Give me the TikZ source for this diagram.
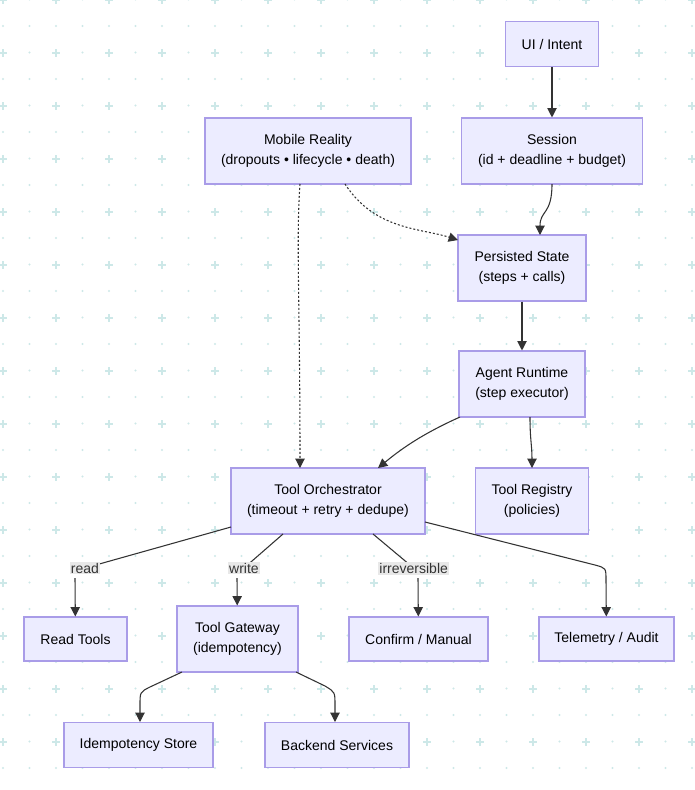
\documentclass[tikz,border=0pt]{standalone}
\usepackage{fontspec}
\setmainfont{Liberation Sans}
\usetikzlibrary{arrows.meta}
\definecolor{nfill}{HTML}{ECECFF}
\definecolor{nbord}{HTML}{A99CE8}
\definecolor{edge}{HTML}{333333}
\definecolor{grid}{HTML}{CDE8E8}
\definecolor{lbl}{HTML}{E8E8E8}
\begin{document}
\begin{tikzpicture}[x=0.75pt,y=-0.75pt,
  box/.style={draw=nbord,fill=nfill,line width=0.8pt,font=\fontsize{10.5}{15}\selectfont,align=center,inner sep=0pt},
  e/.style={draw=edge,line width=0.8pt,-{Triangle[length=7pt,width=7pt]}},
  d/.style={e,dash pattern=on 1.5pt off 1.5pt},
  lb/.style={fill=lbl,font=\fontsize{10.5}{12}\selectfont,inner sep=1pt}]
\useasboundingbox (0,0) rectangle (695,790);
\fill[white] (0,0) rectangle (695,790);
\foreach \i in {0,...,26}{\foreach \j in {0,...,30}{
  \fill[grid] (3+\i*26.5,-0.5+\j*26.5) circle (1.1);}}
\foreach \i in {0,...,13}{\foreach \j in {0,...,15}{
  \draw[grid,line width=1pt] (3+\i*53-4,0+\j*53)--++(8,0) (3+\i*53,\j*53-4)--++(0,8);}}
\node[box,minimum width=93*0.75,minimum height=45*0.75] (ui) at (552,44) {UI / Intent};
\node[box,minimum width=181*0.75,minimum height=66*0.75] (se) at (552,151) {Session\\(id + deadline + budget)};
\node[box,minimum width=206*0.75,minimum height=66*0.75] (mr) at (308,151) {Mobile Reality\\(dropouts • lifecycle • death)};
\node[box,minimum width=128*0.75,minimum height=66*0.75] (ps) at (522,268) {Persisted State\\(steps + calls)};
\node[box,minimum width=126*0.75,minimum height=66*0.75] (ar) at (522,384) {Agent Runtime\\(step executor)};
\node[box,minimum width=194*0.75,minimum height=66*0.75] (to) at (328,501) {Tool Orchestrator\\(timeout + retry + dedupe)};
\node[box,minimum width=113*0.75,minimum height=66*0.75] (tr) at (532,501) {Tool Registry\\(policies)};
\node[box,minimum width=103*0.75,minimum height=44*0.75] (rt) at (75.5,639) {Read Tools};
\node[box,minimum width=121*0.75,minimum height=66*0.75] (tg) at (237.5,639) {Tool Gateway\\(idempotency)};
\node[box,minimum width=139*0.75,minimum height=44*0.75] (cm) at (418.5,639) {Confirm / Manual};
\node[box,minimum width=135*0.75,minimum height=44*0.75] (tl) at (606.5,639) {Telemetry / Audit};
\node[box,minimum width=149*0.75,minimum height=45*0.75] (is) at (138.5,745) {Idempotency Store};
\node[box,minimum width=144*0.75,minimum height=45*0.75] (bs) at (337,745) {Backend Services};
\draw[e] (ui) -- (se);
\draw[e] (552,184) .. controls (552,215) and (540,210) .. (540,235);
\draw[d] (345,184) .. controls (375,230) and (420,228) .. (458,240);
\draw[d] (300,184) .. controls (296,240) and (300,300) .. (300,468);
\draw[e] (ps) -- (ar);
\draw[e] (460,417) .. controls (420,435) and (400,450) .. (378,468);
\draw[e] (530,417) .. controls (530,440) and (532,445) .. (532,468);
\draw[edge,line width=0.8pt] (231,527) -- (85,568) node[lb,pos=1] (l1) {read};
\draw[e] (75,578) -- (rt);
\draw[edge,line width=0.8pt] (283,534) -- (244,568) node[lb,pos=1] (l2) {write};
\draw[e] (237,578) -- (tg);
\draw[edge,line width=0.8pt] (373,534) -- (410,565) node[lb,pos=1.1] (l3) {irreversible};
\draw[e] (418,578) -- (cm);
\draw[e] (425,522) -- (595,565) .. controls (606,568) .. (606,580) -- (tl);
\draw[e] (182,672) -- (150,687) .. controls (140,692) .. (140,705) -- (140,722);
\draw[e] (296,672) -- (325,686) .. controls (335,692) .. (335,705) -- (335,722);
\end{tikzpicture}
\end{document}
